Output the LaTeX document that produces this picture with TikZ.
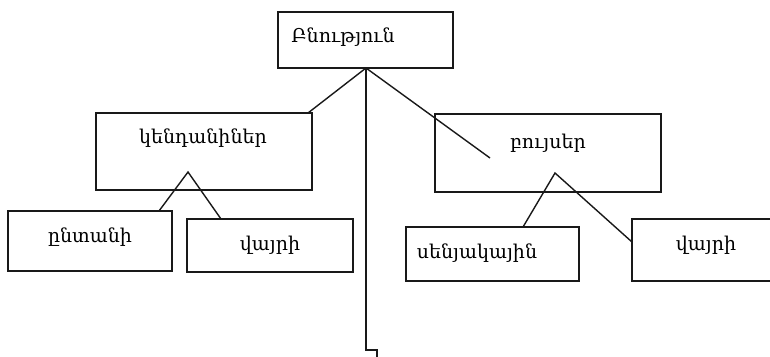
\documentclass[tikz,border=0pt]{standalone}
\usepackage{fontspec}
\setmainfont{DejaVu Serif}
\begin{document}
\begin{tikzpicture}[x=1pt,y=-1pt,
  box/.style={draw=black!90,line width=1.3pt,rectangle,inner sep=0pt},
  lbl/.style={inner sep=0pt,font=\fontsize{19}{22}\selectfont,text=black},
  conn/.style={draw=black!90,line width=1.4pt}]
\clip (0,0) rectangle (770,356);
\fill[white] (0,0) rectangle (770,356);
% boxes
\node[box,minimum width=175pt,minimum height=56pt] (top) at (365.5,40) {};
\node[box,minimum width=216pt,minimum height=77pt] (kend) at (204,151.5) {};
\node[box,minimum width=226pt,minimum height=78pt] (buys) at (548,153) {};
\node[box,minimum width=164pt,minimum height=60pt] (ent) at (90,241) {};
\node[box,minimum width=166pt,minimum height=53pt] (vayL) at (270,245.5) {};
\node[box,minimum width=173pt,minimum height=54pt] (seny) at (492.5,254) {};
\node[box,minimum width=143pt,minimum height=62pt] (vayR) at (703.5,250) {};
% labels
\node[lbl] (tTop) at (343,37) {Բնություն};
\node[lbl] (tKend) at (203,138) {կենդանիներ};
\node[lbl] (tBuys) at (548,143) {բույսեր};
\node[lbl] (tEnt) at (90,237) {ընտանի};
\node[lbl] (tVayL) at (270,245) {վայրի};
\node[lbl] (tSeny) at (477,253) {սենյակային};
\node[lbl] (tVayR) at (706,245) {վայրի};
% junctions and ends
\coordinate (j0) at (366,68);
\coordinate (e1) at (308,113);
\coordinate (e2) at (490,158);
\coordinate (e3) at (366,350);
\coordinate (e4) at (377,350);
\coordinate (e5) at (377,358);
\coordinate (j1) at (188,172);
\coordinate (e6) at (159,211);
\coordinate (e7) at (221,219);
\coordinate (j2) at (555,173);
\coordinate (e8) at (523,227);
\coordinate (e9) at (632,242);
% connectors
\draw[conn] (j0) -- (e1);
\draw[conn] (j0) -- (e2);
\draw[conn] (j0) -- (e3) -- (e4) -- (e5);
\draw[conn] (e6) -- (j1) -- (e7);
\draw[conn] (e8) -- (j2) -- (e9);
\end{tikzpicture}
\end{document}
